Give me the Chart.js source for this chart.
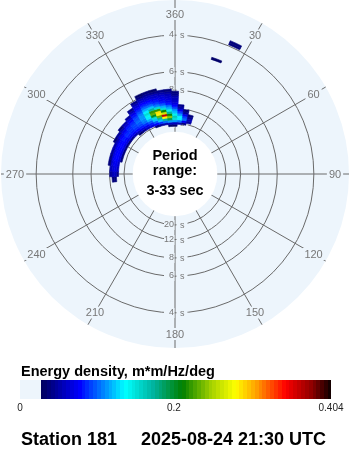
<!DOCTYPE html>
<html>
<head>
<meta charset="utf-8">
<script src="https://cdn.jsdelivr.net/npm/chart.js@4.4.1/dist/chart.umd.min.js"></script>
<style>
  html, body { margin: 0; padding: 0; background: #fff; }
  #wrap { width: 350px; height: 450px; position: relative; }
</style>
</head>
<body>
<div id="wrap"><canvas id="spectrum"></canvas></div>
<script>
// compass labels, one per spoke, clockwise from north
const dirLabels = ['360', '30', '60', '90', '120', '150', '180', '210', '240', '270', '300', '330']

// period rings (s) and the period span shown on the disc
const ringPeriods = [4, 6, 8, 12, 20]
const periodRange = [3, 33]

// spectrum grid: direction bins (deg, 5 deg wide), band centres (Hz, 0.005 wide)
const dirs = [265, 270, 275, 280, 285, 290, 295, 300, 305, 310, 315, 320, 325, 330, 335, 340, 345, 350, 355, 0, 5, 10, 15, 20]
const freqs = [0.045, 0.05, 0.055, 0.06, 0.065, 0.07, 0.075, 0.08, 0.085, 0.09, 0.095, 0.1, 0.105, 0.11, 0.115, 0.12, 0.125, 0.13]
const energy = [
    [0, 0, 0, 0, 0, 0, 0, 0, 0, 0, 0, 0, 0, 0, 0, 0, 0, 0, .03, .03, 0, 0, 0, 0],
    [0, 0, 0, 0, 0, 0, 0, 0, 0, 0, 0, 0, 0, 0, 0, .035, .045, .05, .055, .055, .05, .035, 0, 0],
    [0, 0, 0, 0, 0, 0, 0, 0, 0, 0, 0, .03, .04, .055, .065, .075, .085, .1, .11, .11, .1, .07, .045, 0],
    [0, 0, 0, 0, .035, .035, .035, .035, .035, .04, .05, .055, .065, .07, .08, .095, .12, .17, .19, .15, .13, .1, .055, 0],
    [0, .04, .055, .06, .065, .065, .065, .065, .065, .07, .07, .075, .08, .085, .095, .12, .17, .28, .24, .16, .13, .09, .045, 0],
    [.035, .055, .065, .07, .075, .075, .075, .075, .075, .08, .08, .085, .09, .1, .115, .15, .23, .36, .21, .14, .11, .07, .035, 0],
    [.035, .055, .065, .07, .075, .075, .075, .075, .08, .085, .085, .09, .095, .105, .13, .2, .28, .26, .17, .12, .09, .045, 0, 0],
    [0, .045, .055, .06, .065, .065, .07, .07, .075, .08, .085, .09, .1, .11, .145, .23, .29, .21, .14, .11, .07, .035, 0, 0],
    [0, 0, 0, .035, .04, .045, .05, .055, .065, .07, .08, .085, .095, .11, .15, .22, .22, .15, .115, .09, .05, 0, 0, 0],
    [0, 0, 0, 0, 0, 0, 0, .035, .045, .055, .065, .075, .09, .105, .13, .17, .15, .115, .1, .075, .04, 0, 0, 0],
    [0, 0, 0, 0, 0, 0, 0, 0, 0, .035, .05, .065, .08, .095, .115, .12, .105, .095, .08, .065, 0, 0, 0, 0],
    [0, 0, 0, 0, 0, 0, 0, 0, 0, 0, 0, .045, .07, .085, .1, .1, .09, .08, .07, .06, 0, 0, 0, 0],
    [0, 0, 0, 0, 0, 0, 0, 0, 0, 0, 0, 0, .055, .075, .085, .085, .08, .07, .065, .055, 0, 0, 0, 0],
    [0, 0, 0, 0, 0, 0, 0, 0, 0, 0, 0, 0, .04, .065, .075, .075, .07, .065, .06, .05, 0, 0, 0, 0],
    [0, 0, 0, 0, 0, 0, 0, 0, 0, 0, 0, 0, 0, .055, .065, .065, .06, .06, .055, .04, 0, 0, 0, 0],
    [0, 0, 0, 0, 0, 0, 0, 0, 0, 0, 0, 0, 0, .04, .055, .055, .055, .05, .045, .035, 0, 0, 0, 0],
    [0, 0, 0, 0, 0, 0, 0, 0, 0, 0, 0, 0, 0, 0, .04, .045, .04, .04, .035, 0, 0, 0, 0, 0],
    [0, 0, 0, 0, 0, 0, 0, 0, 0, 0, 0, 0, 0, 0, .03, .035, .03, 0, 0, 0, 0, 0, 0, 0],
]

// small isolated patches away from the main system
const patchDirs = [25, 25, 20]
const patchFreqs = [0.255, 0.26, 0.21]
const patchEnergy = [0.035, 0.035, 0.03]

// colour scale (m*m/Hz/deg)
const colorStops = [0.027, 0.075, 0.134, 0.17, 0.208, 0.245, 0.277, 0.303, 0.342, 0.377, 0.404]
const colorValues = ['#000060', '#0000ff', '#00ffff', '#00b4a0', '#008000', '#a0d000', '#ffff00', '#ffa500', '#ff0000', '#8c0000', '#000000']
const colorTicks = [0, 0.2, 0.404]

const station = 'Station 181'
const stamp = '2025-08-24 21:30 UTC'

const dirStep = 5
const freqStep = 0.005
const rMin = -0.066
const rMax = 0.33

const discColor = '#edf5fc'
const gridColor = '#6a6a6a'
const labelColor = '#777777'
const font = '"Liberation Sans", Arial, sans-serif'

const stopRgb = colorValues.map((h) => {
    const n = parseInt(h.slice(1), 16)
    return [n >> 16, (n >> 8) & 255, n & 255]
})

function energyColor(e) {
    if (e < colorStops[0]) return null
    const last = colorStops.length - 1
    const v = Math.min(Math.floor(e / 0.005) * 0.005, colorStops[last])
    let i = 0
    while (i < last - 1 && v > colorStops[i + 1]) i++
    const t = Math.max(0, Math.min(1, (v - colorStops[i]) / (colorStops[i + 1] - colorStops[i])))
    const a = stopRgb[i]
    const b = stopRgb[i + 1]
    const c = a.map((x, k) => Math.round(x + (b[k] - x) * t))
    return `rgb(${c[0]},${c[1]},${c[2]})`
}

// compass direction -> canvas angle, through the radial scale
function dirAngle(scale, dir) {
    return scale.getIndexAngle((dir / 360) * dirLabels.length) - Math.PI / 2
}

function drawCell(scale, ctx, dir, freq, e) {
    const color = energyColor(e)
    if (!color) return
    const r0 = scale.getDistanceFromCenterForValue(freq - freqStep / 2)
    const r1 = scale.getDistanceFromCenterForValue(freq + freqStep / 2)
    const a0 = dirAngle(scale, dir - dirStep / 2)
    const a1 = a0 + (dirStep * Math.PI) / 180
    ctx.beginPath()
    ctx.arc(scale.xCenter, scale.yCenter, r1, a0, a1)
    ctx.arc(scale.xCenter, scale.yCenter, r0, a1, a0, true)
    ctx.closePath()
    ctx.fillStyle = color
    ctx.strokeStyle = color
    ctx.lineWidth = 0.6
    ctx.fill()
    ctx.stroke()
}

function drawRingLabels(scale, ctx) {
    ctx.font = `9px ${font}`
    ctx.textBaseline = 'middle'
    ringPeriods.forEach((p) => {
        const d = scale.getDistanceFromCenterForValue(1 / p)
        ;[0, dirLabels.length / 2].forEach((idx) => {
            const pt = scale.getPointPosition(idx, d)
            const y = Math.round(pt.y)
            ctx.fillStyle = discColor
            ctx.fillRect(pt.x - 11, y - 5, 10.5, 10)
            ctx.fillRect(pt.x + 1.5, y - 5, 11, 10)
            ctx.fillStyle = labelColor
            ctx.textAlign = 'right'
            ctx.fillText(String(p), pt.x - 1, y)
            ctx.textAlign = 'left'
            ctx.fillText('s', pt.x + 5, y + 0.5)
        })
    })
}

const spectrumLayer = {
    id: 'spectrumLayer',
    beforeDatasetsDraw(chart) {
        const scale = chart.scales.r
        const ctx = chart.ctx
        ctx.save()
        drawRingLabels(scale, ctx)

        energy.forEach((row, i) => {
            row.forEach((e, j) => drawCell(scale, ctx, dirs[j], freqs[i], e))
        })
        patchEnergy.forEach((e, k) => drawCell(scale, ctx, patchDirs[k], patchFreqs[k], e))

        // periods longer than the range are left blank in the middle
        const hole = scale.getDistanceFromCenterForValue(1 / periodRange[1])
        ctx.beginPath()
        ctx.arc(scale.xCenter, scale.yCenter, hole, 0, Math.PI * 2)
        ctx.fillStyle = '#ffffff'
        ctx.fill()
        ctx.restore()
    },
    afterDatasetsDraw(chart) {
        const scale = chart.scales.r
        const ctx = chart.ctx
        ctx.save()

        // compass labels sit on the spokes with a small mask behind them
        ctx.font = `11px ${font}`
        ctx.textAlign = 'center'
        ctx.textBaseline = 'middle'
        dirLabels.forEach((label, i) => {
            const pt = scale.getPointPosition(i, 160)
            const w = ctx.measureText(label).width
            ctx.fillStyle = discColor
            ctx.fillRect(pt.x - w / 2 - 2, pt.y - 6, w + 4, 12)
            ctx.fillStyle = labelColor
            ctx.fillText(label, pt.x, pt.y + 0.5)
        })

        ctx.fillStyle = '#000'
        ctx.font = `bold 14.5px ${font}`
        ctx.textBaseline = 'alphabetic'
        ctx.fillText('Period', scale.xCenter, 160)
        ctx.fillText('range:', scale.xCenter, 175)
        ctx.fillText(`${periodRange[0]}-${periodRange[1]} sec`, scale.xCenter, 195)
        ctx.restore()
    },
    afterDraw(chart) {
        const ctx = chart.ctx
        const x0 = 20
        const x1 = 331
        const top = 380
        const h = 19
        const vmax = colorStops[colorStops.length - 1]
        ctx.save()

        ctx.fillStyle = '#000'
        ctx.font = `bold 14.5px ${font}`
        ctx.textAlign = 'left'
        ctx.textBaseline = 'alphabetic'
        ctx.fillText('Energy density, m*m/Hz/deg', 21, 376)

        for (let px = x0; px < x1; px++) {
            const v = ((px + 0.5 - x0) / (x1 - x0)) * vmax
            ctx.fillStyle = energyColor(v) || discColor
            ctx.fillRect(px, top, 1, h)
        }

        ctx.fillStyle = '#222'
        ctx.font = `10px ${font}`
        ctx.textAlign = 'center'
        colorTicks.forEach((t) => {
            ctx.fillText(String(t), x0 + (t / vmax) * (x1 - x0), 411)
        })

        ctx.fillStyle = '#000'
        ctx.font = `bold 18px ${font}`
        ctx.textAlign = 'left'
        ctx.fillText(station, 21, 445)
        ctx.fillText(stamp, 141, 445)
        ctx.restore()
    },
}

new Chart(document.getElementById('spectrum'), {
    type: 'radar',
    data: {
        labels: dirLabels,
        datasets: [{ data: [], pointRadius: 0, borderWidth: 0 }],
    },
    options: {
        responsive: true,
        maintainAspectRatio: false,
        animation: false,
        events: [],
        layout: { padding: { left: 1, right: 1, top: 0, bottom: 102 } },
        plugins: { legend: { display: false }, tooltip: { enabled: false } },
        scales: {
            r: {
                min: rMin,
                max: rMax,
                backgroundColor: discColor,
                grid: { circular: true, color: gridColor, lineWidth: 1 },
                angleLines: { color: gridColor, lineWidth: 1 },
                pointLabels: { display: false },
                ticks: { display: false },
                afterBuildTicks: (scale) => {
                    scale.ticks = [rMin, ...ringPeriods.map((p) => 1 / p).reverse()].map((v) => ({ value: v }))
                },
            },
        },
    },
    plugins: [spectrumLayer],
})
</script>
</body>
</html>
